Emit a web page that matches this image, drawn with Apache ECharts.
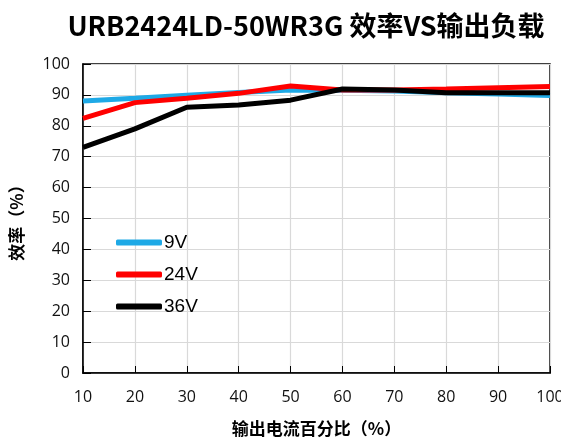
<!DOCTYPE html>
<html><head><meta charset="utf-8">
<script src="https://cdn.jsdelivr.net/npm/echarts@6/dist/echarts.min.js"></script>
<style>html,body{margin:0;padding:0;background:#fff}#c{width:561px;height:438px}</style>
</head><body><div id="c"></div>
<script>
const loadPct = [10, 20, 30, 40, 50, 60, 70, 80, 90, 100];
const eff9V  = [88.0, 88.9, 89.9, 90.8, 91.6, 91.5, 91.3, 90.7, 90.3, 89.8];
const eff24V = [82.4, 87.5, 88.9, 90.5, 92.9, 91.6, 91.6, 91.9, 92.3, 92.7];
const eff36V = [73.0, 79.0, 86.0, 86.7, 88.3, 91.9, 91.6, 90.7, 90.7, 90.7];
const seriesNames = ['9V', '24V', '36V'];
const titleText = 'URB2424LD-50WR3G 效率VS输出负载';
const xName = '输出电流百分比（%）';
const yName = '效率（%）';

const colors = ['#1ea9e6', '#ff0000', '#000000'];
const datasets = [eff9V, eff24V, eff36V];
const chart = echarts.init(document.getElementById('c'), null, {renderer: 'canvas'});
chart.setOption({
  animation: false,
  title: {
    text: titleText, left: 301, top: 7, textAlign: 'center',
    textStyle: {fontFamily: 'Noto Sans CJK SC', fontWeight: 'bold', fontSize: 27, color: '#000'}
  },
  grid: {left: 83, right: 11, top: 64, bottom: 65, show: true, borderColor: '#000', borderWidth: 1.5,
         outerBoundsMode: 'none', containLabel: false},
  legend: {
    orient: 'vertical', left: 111, top: 228, itemGap: 13,
    icon: 'roundRect', itemWidth: 46, itemHeight: 6,
    textStyle: {fontFamily: 'Liberation Sans', fontSize: 19, color: '#000', padding: [0, 0, 0, -3]},
    data: seriesNames
  },
  xAxis: {
    type: 'value', min: 10, max: 100, interval: 10,
    name: xName, nameLocation: 'middle', nameGap: 47,
    nameTextStyle: {fontFamily: 'Noto Sans CJK SC', fontWeight: 'bold', fontSize: 17, color: '#000'},
    axisLine: {show: true, lineStyle: {color: '#000', width: 1.5}},
    axisTick: {show: true, inside: true, length: 7, lineStyle: {color: '#000'}},
    axisLabel: {fontFamily: 'Open Sans', fontSize: 16, color: '#111', margin: 16},
    splitLine: {show: true, lineStyle: {color: '#d9d9d9', width: 1.2}}
  },
  yAxis: {
    type: 'value', min: 0, max: 100, interval: 10,
    name: yName, nameLocation: 'middle', nameGap: 58, nameRotate: 90,
    nameTextStyle: {fontFamily: 'Noto Sans CJK SC', fontWeight: 'bold', fontSize: 17, color: '#000'},
    axisLine: {show: true, lineStyle: {color: '#000', width: 1.5}},
    axisTick: {show: true, inside: true, length: 8, lineStyle: {color: '#000'}},
    axisLabel: {fontFamily: 'Open Sans', fontSize: 16, color: '#111', margin: 13},
    splitLine: {show: true, lineStyle: {color: '#d9d9d9', width: 1.2}}
  },
  series: seriesNames.map((n, i) => ({
    name: n, type: 'line', showSymbol: false, symbol: 'none',
    data: loadPct.map((x, j) => [x, datasets[i][j]]),
    lineStyle: {color: colors[i], width: 5},
    itemStyle: {color: colors[i]},
    z: 2 + i
  }))
});
</script></body></html>
